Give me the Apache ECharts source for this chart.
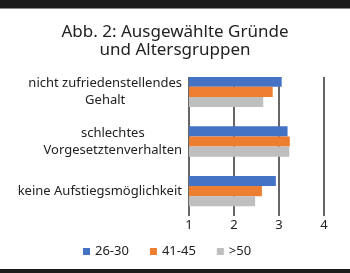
<!DOCTYPE html>
<html>
<head>
<meta charset="utf-8">
<title>Abb. 2</title>
<script src="https://cdn.jsdelivr.net/npm/echarts@6/dist/echarts.min.js"></script>
<style>
	html,body{margin:0;padding:0;background:#fff;}
	#chart{width:350px;height:273px;}
</style>
</head>
<body>
<div id="chart"></div>
<script>
var gruende=['nicht zufriedenstellendes\nGehalt','schlechtes\nVorgesetztenverhalten','keine Aufstiegsmöglichkeit'];
var gruppen=['26-30','41-45','>50'];
var werte2630=[3.06,3.19,2.93];
var werte4145=[2.86,3.24,2.62];
var werte50=[2.65,3.23,2.47];
var skala=[1,4];//min, max

var farben=['#4472c4','#ed7d31','#bfbfbf'];
var schrift='"Noto Sans",sans-serif';

/*jede Zeile der Beschriftung zentriert*/
function zeilen(val){
	return val.split('\n').map(function(z){return '{z|'+z+'}';}).join('\n');
}

var myChart=echarts.init(document.getElementById('chart'));
var option={
	animation:false,
	color:farben,
	textStyle:{fontFamily:schrift},
	title:{
		text:'Abb. 2: Ausgewählte Gründe\nund Altersgruppen',
		left:'center',
		top:18,
		textStyle:{fontSize:17,fontWeight:'normal',color:'#222',lineHeight:18,fontFamily:schrift}
	},
	legend:{
		data:gruppen,
		bottom:10,
		left:78,
		itemWidth:7,
		itemHeight:7,
		itemGap:21,
		icon:'rect',
		textStyle:{fontSize:13,color:'#222',fontFamily:schrift}
	},
	grid:{left:189,right:26,top:67,bottom:57},
	xAxis:{
		type:'value',min:skala[0],max:skala[1],interval:1,
		axisLine:{show:false},axisTick:{show:false},
		axisLabel:{fontSize:13,color:'#222',margin:3,fontFamily:schrift},
		splitLine:{show:true,lineStyle:{color:'#333',width:1.5}}
	},
	yAxis:{
		type:'category',data:gruende,inverse:true,
		axisLine:{show:false},axisTick:{show:false},
		axisLabel:{
			margin:7,align:'right',fontSize:13,color:'#222',lineHeight:17,
			formatter:zeilen,
			rich:{z:{align:'center',fontSize:13,color:'#222',lineHeight:17,fontFamily:schrift}}
		}
	},
	series:[
		{name:gruppen[0],type:'bar',data:werte2630,barGap:'0%',barCategoryGap:'39%'},
		{name:gruppen[1],type:'bar',data:werte4145,barGap:'0%',barCategoryGap:'39%'},
		{name:gruppen[2],type:'bar',data:werte50,barGap:'0%',barCategoryGap:'39%'}
	],
	graphic:[
		//Gitterlinien beginnen erst auf Höhe der ersten Balken
		{type:'rect',left:180,top:64,z:100,shape:{width:160,height:13},style:{fill:'#fff'}},
		{type:'rect',left:0,top:0,z:100,shape:{width:350,height:8},style:{fill:'#1c1c1c'}},
		{type:'rect',left:0,top:8,z:100,shape:{width:350,height:1},style:{fill:'#8a8a8a'}},
		{type:'rect',left:0,top:269,z:100,shape:{width:350,height:4},style:{fill:'#1c1c1c'}}
	]
};
myChart.setOption(option);
</script>
</body>
</html>
